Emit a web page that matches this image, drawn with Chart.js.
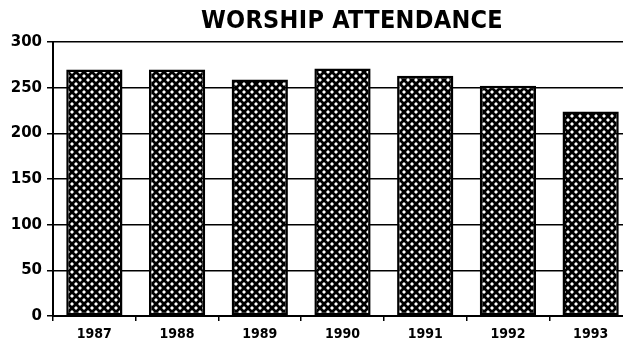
<!DOCTYPE html>
<html>
<head>
<meta charset="utf-8">
<title>Worship Attendance</title>
<script src="https://cdn.jsdelivr.net/npm/chart.js@4.4.1/dist/chart.umd.min.js"></script>
<style>
    html, body { margin: 0; padding: 0; background: #fff; overflow: hidden; }
    #wrap { position: relative; width: 632px; height: 345px; }
    #titre {
        position: absolute; left: 152px; top: 5px; width: 400px;
        text-align: center; color: #000;
        font: bold 25px "DejaVu Sans Condensed", "DejaVu Sans", sans-serif;
        letter-spacing: 0.3px;
    }
</style>
</head>
<body>
<div id="wrap">
    <canvas id="attendanceChart" width="632" height="345"></canvas>
    <div id="titre">WORSHIP ATTENDANCE</div>
</div>
<script>
// Données : fréquentation moyenne au culte par année
const annees = ['1987', '1988', '1989', '1990', '1991', '1992', '1993'];
const frequentation = [270, 270, 259, 271, 263, 252, 224];
const graduationsY = [0, 50, 100, 150, 200, 250, 300];

// Motif quadrillé : fond noir, petits losanges blancs en quinconce
function makeCrosshatch() {
    const c = document.createElement('canvas');
    c.width = 8;
    c.height = 8;
    const g = c.getContext('2d');
    g.fillStyle = '#000';
    g.fillRect(0, 0, 8, 8);
    g.fillStyle = '#fff';
    const losange = (x, y, r) => {
        g.beginPath();
        g.moveTo(x, y - r);
        g.lineTo(x + r, y);
        g.lineTo(x, y + r);
        g.lineTo(x - r, y);
        g.closePath();
        g.fill();
    };
    losange(4, 4, 2.0);
    [[0, 0], [8, 0], [0, 8], [8, 8]].forEach(([x, y]) => losange(x, y, 2.0));
    return g.createPattern(c, 'repeat');
}

const ctx = document.getElementById('attendanceChart').getContext('2d');
Chart.defaults.color = '#000';

new Chart(ctx, {
    type: 'bar',
    data: {
        labels: annees,
        datasets: [{
            label: 'Attendance',
            data: frequentation,
            backgroundColor: makeCrosshatch(),
            borderColor: '#000',
            borderWidth: 2.5,
            borderSkipped: false,
            barPercentage: 0.68,
            categoryPercentage: 1.0
        }]
    },
    options: {
        responsive: false,
        animation: false,
        devicePixelRatio: 1,
        layout: { padding: { top: 42, left: 0, right: 0, bottom: 0 } },
        plugins: {
            legend: { display: false },
            title: { display: false },
            tooltip: { enabled: false }
        },
        scales: {
            x: {
                grid: {
                    display: true,
                    drawOnChartArea: false,
                    drawTicks: true,
                    tickLength: 5,
                    color: '#000',
                    lineWidth: 1.5
                },
                border: { display: true, color: '#000', width: 2 },
                ticks: {
                    padding: 5,
                    font: { family: '"DejaVu Sans Condensed", "DejaVu Sans"', size: 14, weight: 'bold' }
                },
                afterFit: (scale) => { scale.height = 29; }
            },
            y: {
                min: 0,
                max: 300,
                afterBuildTicks: (scale) => {
                    scale.ticks = graduationsY.map(v => ({ value: v }));
                },
                grid: {
                    color: '#000',
                    lineWidth: 1.5,
                    tickLength: 6
                },
                border: { display: true, color: '#000', width: 2 },
                ticks: {
                    padding: 5,
                    font: { family: '"DejaVu Sans"', size: 15, weight: 'bold' }
                },
                afterFit: (scale) => { scale.width = 53; }
            }
        }
    }
});
</script>
</body>
</html>
